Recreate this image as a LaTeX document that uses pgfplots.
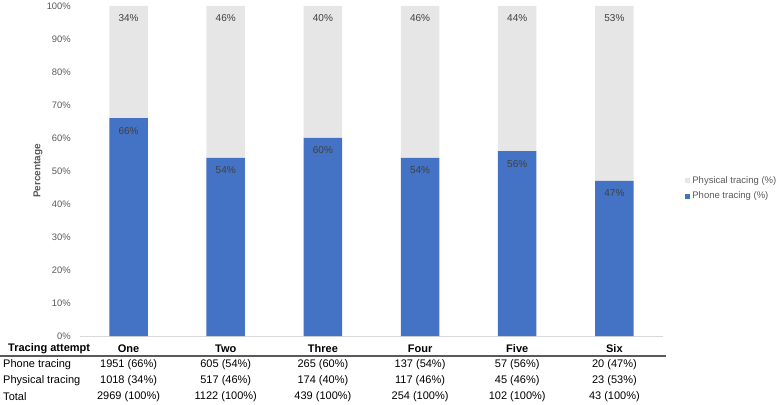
\documentclass[border=0pt]{standalone}
\usepackage{pgfplots}
\pgfplotsset{compat=1.18}
\usepackage{fontspec}
\setmainfont{Liberation Sans}
\definecolor{phone}{HTML}{4472C4}
\definecolor{phys}{HTML}{E7E6E6}
\definecolor{txt}{HTML}{595959}
\definecolor{lab}{HTML}{404040}
\definecolor{axl}{HTML}{D9D9D9}
\newcommand{\tickfont}{\fontsize{9.4bp}{11bp}\selectfont}
\newcommand{\tabfont}{\fontsize{11bp}{13bp}\selectfont}
\begin{document}
\begin{tikzpicture}
\useasboundingbox (0,0) rectangle (777bp,405bp);
\begin{axis}[
  at={(80bp,69bp)}, anchor=south west,
  scale only axis, width=583bp, height=330bp,
  ybar stacked, bar width=38.5bp,
  xmin=-0.5, xmax=5.5, ymin=0, ymax=100,
  xtick=data, xticklabels={},
  ytick={0,10,...,100},
  yticklabel={\pgfmathprintnumber{\tick}\%},
  /pgf/number format/assume math mode=true,
  yticklabel style={font=\tickfont, text=txt, inner sep=0pt, xshift=-9bp},
  axis x line*=bottom, axis y line*=left,
  y axis line style={draw=none},
  x axis line style={draw=axl, line width=0.8bp, -},
  tick style={draw=none},
  major tick length=0pt,
  ylabel={\textbf{Percentage}},
  ylabel style={at={(axis description cs:-0.072,0.5)}, anchor=center, font=\fontsize{10bp}{12bp}\selectfont, text=txt},
  clip=false,
  visualization depends on={rawy \as \rawy},
  nodes near coords={\pgfmathprintnumber[fixed,precision=0]{\rawy}\%},
  every node near coord/.append style={font=\fontsize{10bp}{12bp}\selectfont, text=lab, anchor=center,
     yshift={1.65bp*\rawy-12.5bp}},
  legend style={at={(axis description cs:1,0.447)}, anchor=west, xshift=22bp, draw=none, fill=none,
    font=\fontsize{9.5bp}{11bp}\selectfont, text=txt, row sep=3bp, inner sep=0pt, legend cell align=left},
  reverse legend,
  legend image code/.code={\fill[#1] (0bp,-2.6bp) rectangle (5.2bp,2.6bp);},
]
\addplot[fill=phone, draw=none] coordinates {(0,66) (1,54) (2,60) (3,54) (4,56) (5,47)};
\addplot[fill=phys, draw=none] coordinates {(0,34) (1,46) (2,40) (3,46) (4,44) (5,53)};
\legend{Phone tracing (\%), Physical tracing (\%)}

% table below the chart
\draw[color=black!65, line width=1.3bp] (axis cs:-1.323,-6.06) -- (axis cs:5.53,-6.06);
\node[anchor=west, font=\tabfont\bfseries, inner sep=0pt] at (axis cs:-1.241,-3.94) {Tracing attempt};
\node[anchor=west, font=\tabfont, inner sep=0pt] at (axis cs:-1.292,-8.79) {Phone tracing};
\node[anchor=west, font=\tabfont, inner sep=0pt] at (axis cs:-1.292,-13.64) {Physical tracing};
\node[anchor=west, font=\tabfont, inner sep=0pt] at (axis cs:-1.292,-18.48) {Total};
\node[font=\tabfont\bfseries, inner sep=0pt] at (axis cs:0,-3.94) {One};
\node[font=\tabfont\bfseries, inner sep=0pt] at (axis cs:1,-3.94) {Two};
\node[font=\tabfont\bfseries, inner sep=0pt] at (axis cs:2,-3.94) {Three};
\node[font=\tabfont\bfseries, inner sep=0pt] at (axis cs:3,-3.94) {Four};
\node[font=\tabfont\bfseries, inner sep=0pt] at (axis cs:4,-3.94) {Five};
\node[font=\tabfont\bfseries, inner sep=0pt] at (axis cs:5,-3.94) {Six};
\node[font=\tabfont, inner sep=0pt] at (axis cs:0,-8.79) {1951 (66\%)};
\node[font=\tabfont, inner sep=0pt] at (axis cs:1,-8.79) {605 (54\%)};
\node[font=\tabfont, inner sep=0pt] at (axis cs:2,-8.79) {265 (60\%)};
\node[font=\tabfont, inner sep=0pt] at (axis cs:3,-8.79) {137 (54\%)};
\node[font=\tabfont, inner sep=0pt] at (axis cs:4,-8.79) {57 (56\%)};
\node[font=\tabfont, inner sep=0pt] at (axis cs:5,-8.79) {20 (47\%)};
\node[font=\tabfont, inner sep=0pt] at (axis cs:0,-13.64) {1018 (34\%)};
\node[font=\tabfont, inner sep=0pt] at (axis cs:1,-13.64) {517 (46\%)};
\node[font=\tabfont, inner sep=0pt] at (axis cs:2,-13.64) {174 (40\%)};
\node[font=\tabfont, inner sep=0pt] at (axis cs:3,-13.64) {117 (46\%)};
\node[font=\tabfont, inner sep=0pt] at (axis cs:4,-13.64) {45 (46\%)};
\node[font=\tabfont, inner sep=0pt] at (axis cs:5,-13.64) {23 (53\%)};
\node[font=\tabfont, inner sep=0pt] at (axis cs:0,-18.48) {2969 (100\%)};
\node[font=\tabfont, inner sep=0pt] at (axis cs:1,-18.48) {1122 (100\%)};
\node[font=\tabfont, inner sep=0pt] at (axis cs:2,-18.48) {439 (100\%)};
\node[font=\tabfont, inner sep=0pt] at (axis cs:3,-18.48) {254 (100\%)};
\node[font=\tabfont, inner sep=0pt] at (axis cs:4,-18.48) {102 (100\%)};
\node[font=\tabfont, inner sep=0pt] at (axis cs:5,-18.48) {43 (100\%)};
\end{axis}
\end{tikzpicture}
\end{document}
